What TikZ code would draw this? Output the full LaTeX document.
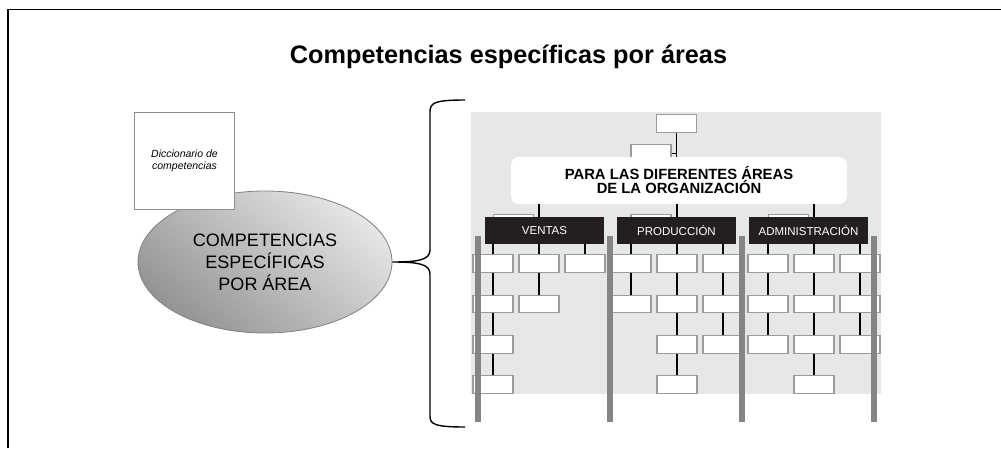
\documentclass[tikz,border=0pt]{standalone}
\usepackage{fontspec}
\setmainfont{Liberation Sans}
\usetikzlibrary{shapes.geometric}
\definecolor{panelgray}{RGB}{230,231,232}
\definecolor{bargray}{RGB}{133,133,133}
\definecolor{cellgray}{RGB}{155,155,155}
\definecolor{darkbox}{RGB}{35,31,32}
\tikzset{
	cell/.style={draw=cellgray, line width=1.3pt, fill=white, minimum width=40pt, minimum height=17.5pt, inner sep=0pt},
	area/.style={fill=darkbox, text=white, minimum width=119pt, minimum height=26.5pt, inner sep=0pt, font=\fontsize{11.5}{13}\selectfont},
	link/.style={line width=1.2pt},
	bar/.style={fill=bargray}
}
\begin{document}
\begin{tikzpicture}[x=1pt,y=-1pt]
	\useasboundingbox (0,0) rectangle (1001,448);
	\draw[line width=1.3pt](8,448)--(8,9.5)--(1001,9.5);
	\node[anchor=base, font=\bfseries\fontsize{25.3}{30}\selectfont] (title) at (508.5,63) {Competencias específicas por áreas};
	\node[ellipse, draw=black!50, line width=0.8pt, top color=black!10, bottom color=black!42, shading angle=-40, minimum width=254pt, minimum height=142pt, inner sep=0pt, align=center, font=\fontsize{18}{22}\selectfont] (comp) at (265,262) {COMPETENCIAS\\ESPECÍFICAS\\POR ÁREA};
	\node[draw=black!45, line width=1pt, fill=white, minimum width=100pt, minimum height=97pt, align=center, font=\itshape\fontsize{10.5}{12}\selectfont] (dic) at (184.5,161) {Diccionario de\\competencias};
	\coordinate (bt) at (465,100);
	\coordinate (bb) at (465,427);
	\draw[line width=1.4pt](bt) .. controls (434,100) and (430,103) .. (430,112)--(430,250) .. controls (430,260) and (418,262) .. (comp.east) .. controls (418,262) and (430,264) .. (430,274)--(430,416) .. controls (430,424) and (434,427) .. (bb);
	\fill[panelgray](471,112) rectangle (881,394);
	\node[cell] (head) at (676.5,123.5) {};
	\node[cell] (sub) at (651,153.5) {};
	\node[fill=white, rounded corners=8pt, minimum width=336pt, minimum height=47pt, align=center, font=\bfseries\fontsize{14.8}{14}\selectfont] (org) at (679,180.5) {PARA LAS DIFERENTES ÁREAS\\DE LA ORGANIZACIÓN};
	\draw[link](head.south)--(head.south |- org.north);
	\draw[link](sub.east)--(sub.east -| head.south);
	\node[cell] (pv) at (513.5,223) {};
	\node[cell] (pp) at (651,223) {};
	\node[cell] (pa) at (788.5,223) {};
	\node[area] (ven) at (544.5,230.5) {VENTAS};
	\node[area] (pro) at (676.5,230.5) {PRODUCCIÓN};
	\node[area] (adm) at (808.5,230.5) {ADMINISTRACIÓN};
	\node[cell] (c0r1) at (493,263.5) {};
	\node[cell] (c1r1) at (539,263.5) {};
	\node[cell] (c2r1) at (585,263.5) {};
	\node[cell] (c0r2) at (493,304) {};
	\node[cell] (c1r2) at (539,304) {};
	\node[cell] (c0r3) at (493,344.5) {};
	\node[cell] (c0r4) at (493,384.5) {};
	\node[cell] (c3r1) at (631,263.5) {};
	\node[cell] (c4r1) at (677,263.5) {};
	\node[cell] (c5r1) at (723,263.5) {};
	\node[cell] (c3r2) at (631,304) {};
	\node[cell] (c4r2) at (677,304) {};
	\node[cell] (c5r2) at (723,304) {};
	\node[cell] (c4r3) at (677,344.5) {};
	\node[cell] (c5r3) at (723,344.5) {};
	\node[cell] (c4r4) at (677,384.5) {};
	\node[cell] (c6r1) at (768,263.5) {};
	\node[cell] (c7r1) at (814,263.5) {};
	\node[cell] (c8r1) at (860,263.5) {};
	\node[cell] (c6r2) at (768,304) {};
	\node[cell] (c7r2) at (814,304) {};
	\node[cell] (c8r2) at (860,304) {};
	\node[cell] (c6r3) at (768,344.5) {};
	\node[cell] (c7r3) at (814,344.5) {};
	\node[cell] (c8r3) at (860,344.5) {};
	\node[cell] (c7r4) at (814,384.5) {};
	\draw[link](org.south -| c1r1)--(ven.north -| c1r1);
	\draw[link](org.south -| c4r1)--(pro.north -| c4r1);
	\draw[link](org.south -| c7r1)--(adm.north -| c7r1);
	\draw[link](ven.south -| c0r1)--(c0r1);
	\draw[link](ven.south -| c1r1)--(c1r1);
	\draw[link](ven.south -| c2r1)--(c2r1);
	\draw[link](pro.south -| c3r1)--(c3r1);
	\draw[link](pro.south -| c4r1)--(c4r1);
	\draw[link](pro.south -| c5r1)--(c5r1);
	\draw[link](adm.south -| c6r1)--(c6r1);
	\draw[link](adm.south -| c7r1)--(c7r1);
	\draw[link](adm.south -| c8r1)--(c8r1);
	\draw[link](c0r1)--(c0r2)--(c0r3)--(c0r4);
	\draw[link](c1r1)--(c1r2);
	\draw[link](c3r1)--(c3r2);
	\draw[link](c4r1)--(c4r2)--(c4r3)--(c4r4);
	\draw[link](c5r1)--(c5r2)--(c5r3);
	\draw[link](c6r1)--(c6r2)--(c6r3);
	\draw[link](c7r1)--(c7r2)--(c7r3)--(c7r4);
	\draw[link](c8r1)--(c8r2)--(c8r3);
	\fill[bar](475,236) rectangle (481,422);
	\fill[bar](607,236) rectangle (613,422);
	\fill[bar](739,236) rectangle (745,422);
	\fill[bar](871,236) rectangle (877,422);
\end{tikzpicture}
\end{document}
